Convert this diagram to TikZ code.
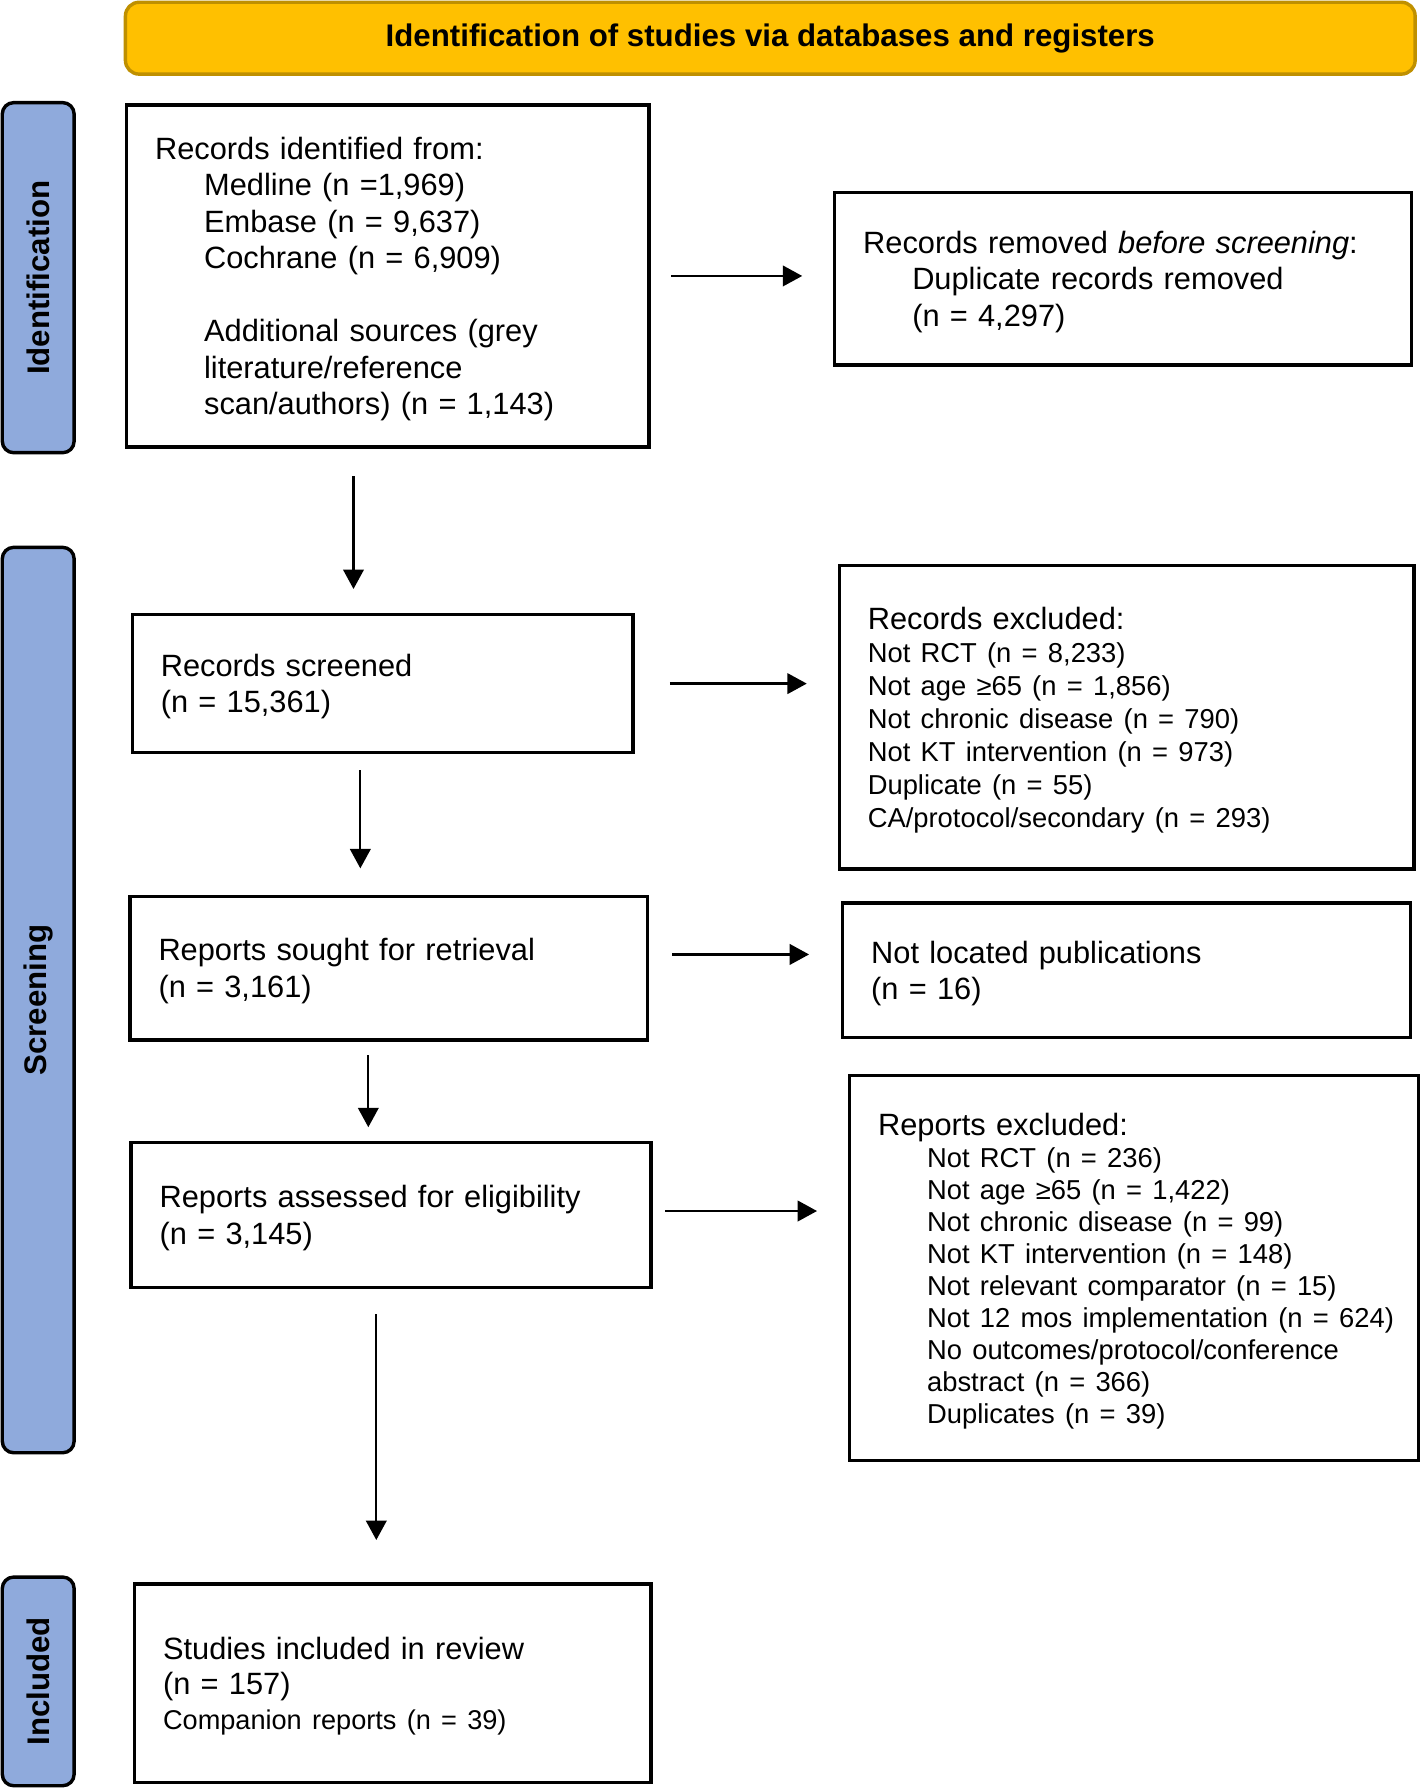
\documentclass[tikz,border=0pt]{standalone}
\usepackage{fontspec}
\setmainfont{Liberation Sans}
\usetikzlibrary{arrows.meta}
\definecolor{hdrfill}{HTML}{FFC000}
\definecolor{hdrline}{HTML}{BF9000}
\definecolor{barfill}{HTML}{8FAADC}
\newcommand\ind[1]{\mbox{\hspace*{21.5pt}#1}}
\newcommand\sm{\fontsize{12pt}{14pt}\selectfont}
\begin{document}
\begin{tikzpicture}[x=0.5pt,y=-0.5pt,
  box/.style={draw=black, line width=1.5pt, align=left, inner xsep=12.5pt, inner ysep=0pt,
    font=\fontsize{13.5pt}{16pt}\selectfont},
  hdr/.style={draw=hdrline, fill=hdrfill, line width=1.5pt, rounded corners=6pt,
    font=\bfseries\fontsize{13.7pt}{16pt}\selectfont},
  sidebar/.style={draw=black, fill=barfill, line width=1.5pt, rounded corners=5pt,
    minimum width=31.5pt, inner sep=0pt},
  sidelabel/.style={rotate=90, font=\bfseries\fontsize{13.7pt}{16pt}\selectfont, inner sep=0pt},
  arr/.style={line width=1pt, -{Triangle[length=8.5pt,width=9pt]}}]
\useasboundingbox (0,0) rectangle (1246,1568);
\fill[white] (0,0) rectangle (1246,1568);

% header
\node[hdr, minimum width=565.5pt, minimum height=31.5pt] (hdr) at (675.5,33.5)
  {Identification of studies via databases and registers};

% side bars
\node[sidebar, minimum height=153.5pt] (sbI) at (33.5,243.5) {};
\node[sidelabel] (slI) at (sbI.center) {Identification};
\node[sidebar, minimum height=397pt] (sbS) at (33.5,877) {};
\node[sidelabel] (slS) at (sbS.center) {Screening};
\node[sidebar, minimum height=91.5pt] (sbN) at (33.5,1474.5) {};
\node[sidelabel] (slN) at (sbN.center) {Included};

% left column
\node[box, text width=204pt, minimum height=150pt] (B1) at (340,242)
  {\rule{0pt}{12.5pt}Records identified from:\\
   \ind{Medline (n =1,969)}\\
   \ind{Embase (n = 9,637)}\\
   \ind{Cochrane (n = 6,909)}\\[16pt]
   \ind{Additional sources (grey}\\
   \ind{literature/reference}\\
   \ind{scan/authors) (n = 1,143)}};
\node[box, text width=194.5pt, minimum height=60.5pt] (B2) at (335.5,599.5)
  {\rule{0pt}{12.5pt}Records screened\\(n = 15,361)};
\node[box, text width=202pt, minimum height=63pt] (B3) at (341,849)
  {\rule{0pt}{12.5pt}Reports sought for retrieval\\(n = 3,161)};
\node[box, text width=203pt, minimum height=63.5pt] (B4) at (343,1065.5)
  {\rule{0pt}{12.5pt}Reports assessed for eligibility\\(n = 3,145)};
\node[box, text width=201.5pt, minimum height=87pt, font=\fontsize{13.5pt}{15.5pt}\selectfont] (B5) at (344.5,1476)
  {\rule{0pt}{12.5pt}Studies included in review\\(n = 157)\\{\fontsize{11.9pt}{15.5pt}\selectfont Companion reports (n = 39)}};

% right column
\node[box, text width=228pt, minimum height=75.5pt] (R1) at (985,244.5)
  {\rule{0pt}{12.5pt}Records removed \textit{before screening}:\\
   \ind{Duplicate records removed}\\
   \ind{(n = 4,297)}};
\node[box, text width=227pt, minimum height=133pt, font=\fontsize{13.5pt}{14.5pt}\selectfont] (R2) at (988,629)
  {\rule{0pt}{12.5pt}Records excluded:\\
   {\sm Not RCT (n = 8,233)}\\
   {\sm Not age ≥65 (n = 1,856)}\\
   {\sm Not chronic disease (n = 790)}\\
   {\sm Not KT intervention (n = 973)}\\
   {\sm Duplicate (n = 55)}\\
   {\sm CA/protocol/secondary (n = 293)}};
\node[box, text width=224pt, minimum height=59pt] (R3) at (988,851)
  {\rule{0pt}{12.5pt}Not located publications\\(n = 16)};
\node[box, text width=224.5pt, minimum height=169pt, font=\fontsize{13.5pt}{14pt}\selectfont] (R4) at (994.5,1112)
  {\rule{0pt}{12.5pt}Reports excluded:\\
   \ind{\sm Not RCT (n = 236)}\\
   \ind{\sm Not age ≥65 (n = 1,422)}\\
   \ind{\sm Not chronic disease (n = 99)}\\
   \ind{\sm Not KT intervention (n = 148)}\\
   \ind{\sm Not relevant comparator (n = 15)}\\
   \ind{\sm Not 12 mos implementation (n = 624)}\\
   \ind{\sm No outcomes/protocol/conference}\\
   \ind{\sm abstract (n = 366)}\\
   \ind{\sm Duplicates (n = 39)}};

% horizontal arrows
\draw[arr, shorten <=9pt, shorten >=13.5pt] (B1.east) -- (B1.east -| R1.west);
\draw[arr, shorten <=15.5pt, shorten >=13.5pt] (B2.east) -- (B2.east -| R2.west);
\draw[arr, shorten <=10pt, shorten >=14pt] ([yshift=6pt]B3.east) -- ([yshift=6pt]B3.east -| R3.west);
\draw[arr, shorten <=5.5pt, shorten >=13.5pt] ([yshift=1.75pt]B4.east) -- ([yshift=1.75pt]B4.east -| R4.west);

% vertical arrows
\coordinate (v1) at (310,0);
\coordinate (v2) at (316,0);
\coordinate (v3) at (323,0);
\coordinate (v4) at (330,0);
\draw[arr, shorten <=12pt, shorten >=10.5pt] (B1.south -| v1) -- (B2.north -| v1);
\draw[arr, shorten <=7pt, shorten >=11.5pt] (B2.south -| v2) -- (B3.north -| v2);
\draw[arr, shorten <=6pt, shorten >=6pt] (B3.south -| v3) -- (B4.north -| v3);
\draw[arr, shorten <=11pt, shorten >=18.5pt] (B4.south -| v4) -- (B5.north -| v4);
\end{tikzpicture}
\end{document}
